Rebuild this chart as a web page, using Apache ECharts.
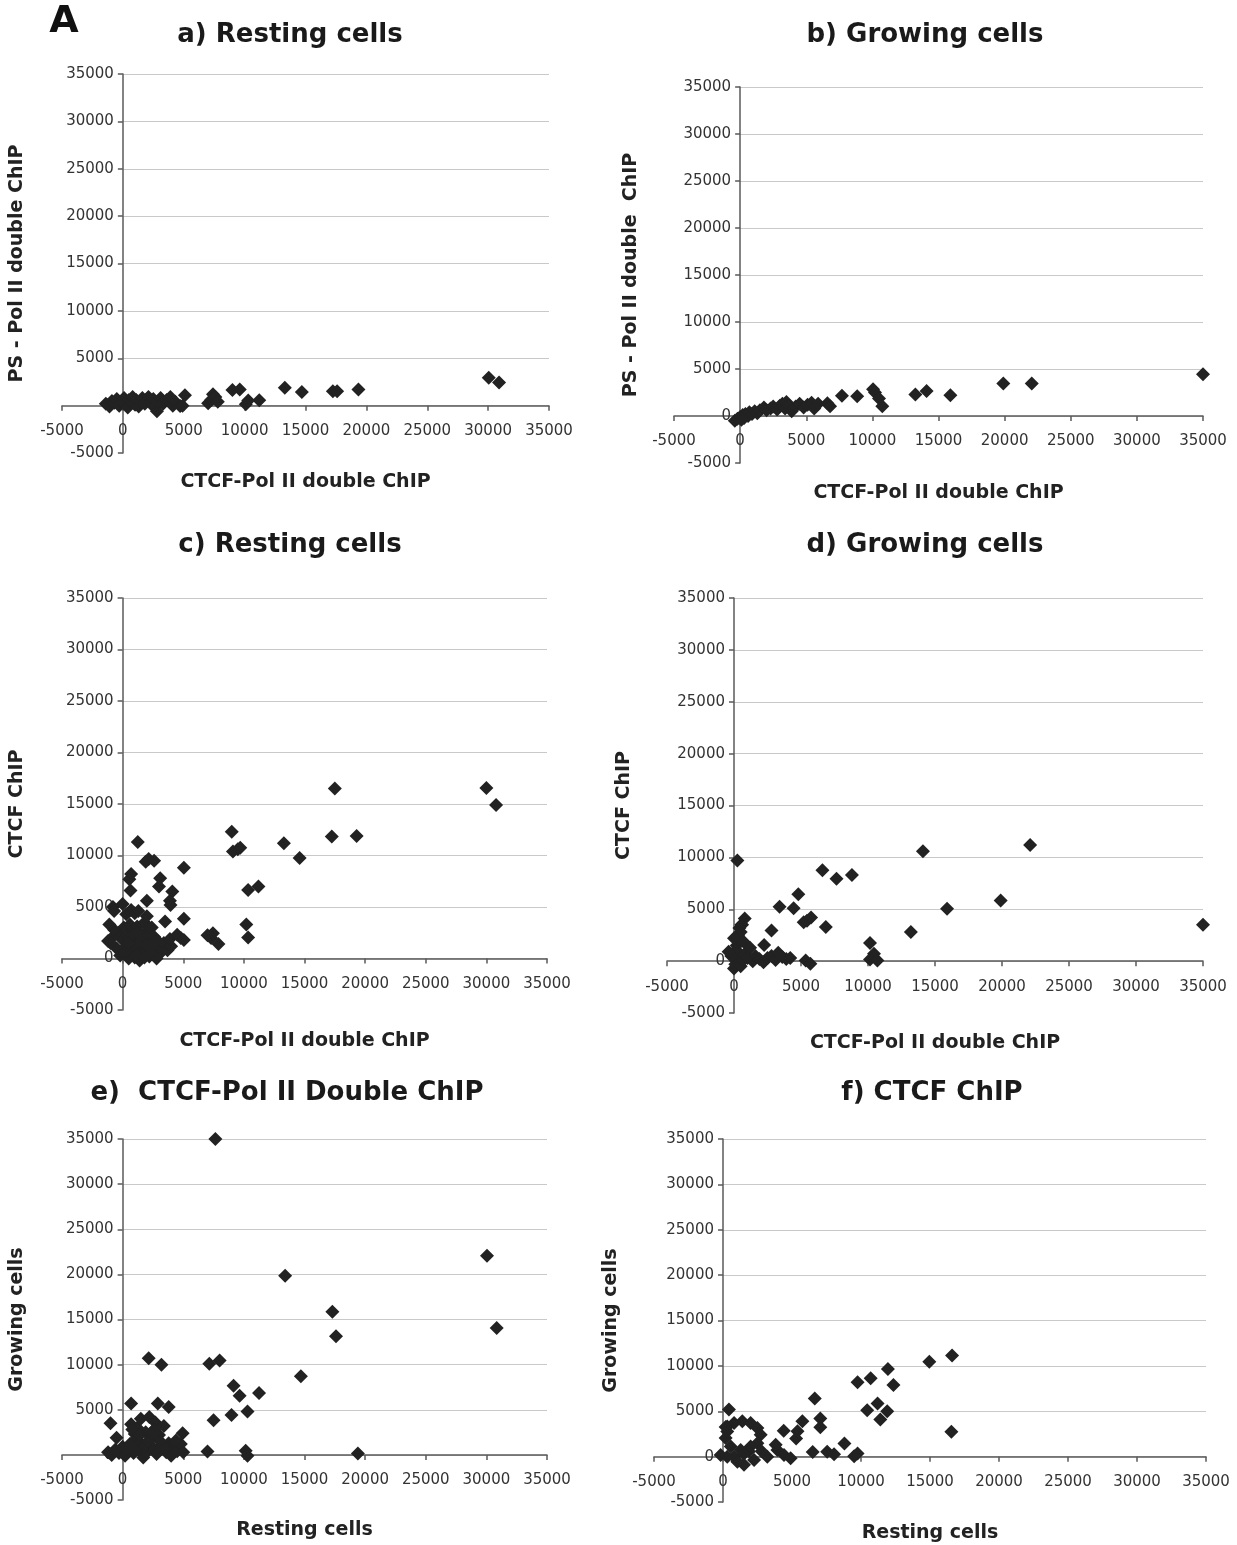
<!DOCTYPE html>
<html>
<head>
<meta charset="utf-8">
<script src="https://cdn.jsdelivr.net/npm/echarts@6/dist/echarts.min.js"></script>
<style>
  html, body { margin: 0; background: #fff; }
  #chart { width: 1237px; height: 1545px; }
</style>
</head>
<body>
<div id="chart"></div>
<script>
// axis ticks, same for every panel
const tickMin = -5000;
const tickMax = 35000;
const tickStep = 5000;

const titles = ['a) Resting cells', 'b) Growing cells', 'c) Resting cells',
  'd) Growing cells', 'e)  CTCF-Pol II Double ChIP', 'f) CTCF ChIP'];
const xNames = ['CTCF-Pol II double ChIP', 'CTCF-Pol II double ChIP', 'CTCF-Pol II double ChIP',
  'CTCF-Pol II double ChIP', 'Resting cells', 'Resting cells'];
const yNames = ['PS - Pol II double ChIP', 'PS - Pol II double  ChIP', 'CTCF ChIP',
  'CTCF ChIP', 'Growing cells', 'Growing cells'];

// a) resting: CTCF-Pol II double ChIP vs PS-Pol II double ChIP
const restingPS = [
  [-1400, 200], [-1100, -100], [-900, 500], [-700, 300], [-500, 700], [-300, 0], [-100, 400],
  [100, 800], [200, 200], [400, -200], [500, 600], [700, 300], [800, 900], [1000, 100],
  [1100, 600], [1300, -100], [1400, 400], [1600, 800], [1800, 200], [1900, 600], [2100, 900],
  [2300, 300], [2500, 700], [2600, -200], [2800, -600], [2900, 400], [3100, 800], [3300, 200],
  [3600, 600], [3900, 900], [4100, 0], [4300, 400], [4700, -50],
  [5100, 1100], [4900, 0], [7000, 250], [7250, 600], [7400, 1200], [7600, 900], [7800, 420],
  [9000, 1650], [9600, 1700], [10100, 150], [10300, 550], [11200, 580], [13300, 1880],
  [14700, 1450], [17250, 1530], [17600, 1530], [19350, 1700], [30050, 2950], [30900, 2450]
];

// b) growing: CTCF-Pol II double ChIP vs PS-Pol II double ChIP
const growingPS = [
  [-400, -500], [-200, -300], [0, -100], [100, -400], [200, 100], [300, -200], [400, 200],
  [600, 0], [700, 400], [900, 200], [1100, 500], [1300, 300], [1500, 600], [1800, 900],
  [2000, 600], [2300, 800], [2500, 1000], [2800, 700], [3000, 1100], [3200, 1300], [3400, 800],
  [3500, 1500], [3700, 1100], [3900, 500], [4200, 1000], [4500, 1300], [4800, 900],
  [5100, 1200], [5400, 1400], [5600, 800], [5900, 1300],
  [6600, 1350], [6800, 1050], [7700, 2150], [8850, 2100], [10050, 2850], [10200, 2500],
  [10500, 1850], [10750, 1050], [13250, 2300], [14100, 2650], [15900, 2200], [19900, 3450],
  [22050, 3450], [35000, 4450]
];

// c) resting: CTCF-Pol II double ChIP vs CTCF ChIP
const restingCTCF = [
  [-500, 1000], [-300, 2500], [-200, 300], [0, 1800], [100, 3000], [200, 500], [300, 1200],
  [400, 2200], [500, 0], [600, 3300], [700, 1500], [800, 600], [900, 2600], [1000, 100],
  [1100, 1900], [1200, 3100], [1300, 900], [1400, -200], [1500, 2400], [1600, 1300],
  [1700, 400], [1800, 3500], [1900, 1800], [2000, 800], [2100, 2800], [2200, 200],
  [2300, 1500], [2400, 3000], [2500, 600], [2600, 2100], [2700, 1100], [2800, 0],
  [2900, 1700], [3000, 400], [3200, 1000], [3400, 1500], [3700, 800], [4000, 1200],
  [-900, 2000], [-1000, 1500], [-700, 2800],
  [300, 700], [600, 2000], [900, 1200], [1100, 300], [1400, 1600], [1700, 2300],
  [2000, 1300], [2300, 500], [500, 1500], [1200, 2500], [1800, 100], [2500, 1400],
  [-800, 5000], [0, 5300], [700, 4700], [1000, 4400], [1300, 4600], [-1100, 3300],
  [-1200, 1700], [-700, 4600], [300, 4300], [1250, 11300], [700, 8200], [550, 7700],
  [650, 6600], [2000, 5600], [2000, 4100], [2150, 9650], [1900, 9400], [2600, 9500],
  [3100, 7800], [3000, 7000], [4100, 6500], [3900, 5600], [3950, 5200], [3500, 3600],
  [3900, 1900], [4500, 2300], [4800, 2000], [5050, 8800], [5050, 3850], [5050, 1800],
  [7000, 2250], [7300, 2000], [7450, 2450], [7900, 1400], [9000, 12300], [9100, 10400],
  [9500, 10600], [9700, 10750], [10350, 6650], [11200, 7000], [10200, 3300], [10350, 2050],
  [13300, 11200], [14600, 9750], [17250, 11850], [17500, 16500], [19300, 11900],
  [30000, 16550], [30800, 14900]
];

// d) growing: CTCF-Pol II double ChIP vs CTCF ChIP
const growingCTCF = [
  [0, -700], [100, -300], [200, 300], [300, 900], [200, 1500], [400, 2000], [300, 2500],
  [500, 2800], [400, 3200], [600, 3500], [100, 1000], [-200, 500], [-400, 900], [500, -500],
  [700, 100], [800, 700], [1000, 300], [1200, 1300], [1400, 0], [1600, 500], [1900, 200],
  [2200, -100], [2500, 300], [2800, 500], [3100, 100], [3300, 800], [3600, 400], [3900, 200],
  [4200, 300], [700, 1900], [0, 2200],
  [250, 9700], [800, 4100], [550, 3500], [2250, 1550], [2800, 2950], [3400, 5250],
  [4450, 5100], [4800, 6450], [5200, 3750], [5450, 3900], [5750, 4200], [5350, 50],
  [5700, -250], [6600, 8750], [6850, 3300], [7650, 7950], [8800, 8300], [10150, 1750],
  [10450, 700], [10150, 150], [10700, 50], [13200, 2800], [14100, 10600], [15900, 5050],
  [19900, 5850], [22100, 11200], [35000, 3500]
];

// e) CTCF-Pol II double ChIP: resting vs growing
const doubleChIP = [
  [-1200, 300], [-900, 0], [-600, 600], [-300, 200], [0, 900], [200, -100], [400, 400],
  [600, 1200], [700, 3400], [900, 200], [1100, 1800], [1200, 3000], [1300, 600],
  [1500, 4000], [1600, 1200], [1700, -300], [1900, 2500], [2000, 300], [2200, 4200],
  [2300, 1700], [2500, 800], [2700, 3600], [2800, 100], [3000, 2200], [3200, 1000],
  [3400, 3200], [3600, 300], [3800, 1300], [4000, -100], [4200, 800], [4500, 400],
  [4800, 1200], [5000, 300], [1000, 2300], [2600, 2800],
  [300, 700], [800, 2800], [1400, 2200], [1800, 1000], [2100, 1500], [2400, 2500],
  [3100, 1500], [3500, 700], [4400, 1600], [1000, 500],
  [-1000, 3500], [-500, 1900], [700, 5700], [2900, 5700], [3800, 5300], [4950, 2400],
  [2150, 10700], [3200, 10000], [7150, 10100], [8000, 10450], [7650, 35000], [7000, 370],
  [7500, 3850], [8980, 4420], [9150, 7650], [9650, 6550], [10300, 4800], [10150, 450],
  [10300, -100], [11250, 6850], [13400, 19850], [14700, 8700], [17300, 15850],
  [17600, 13150], [19400, 150], [30050, 22050], [30850, 14050]
];

// f) CTCF ChIP: resting vs growing
const ctcfChIP = [
  [310, 3330], [800, 3700], [1400, 3890], [2000, 3700], [2490, 3150], [2730, 2410],
  [2490, 1480], [2000, 1110], [1280, 740], [560, 1110], [190, 2040], [310, 2780],
  [800, 0], [1520, -900], [2250, -370], [3210, 0], [3940, 740], [4420, 190], [4900, -190],
  [-170, 190], [310, 0], [1040, -560], [3820, 1300], [1880, 560], [1500, 300], [2800, 600],
  [430, 5200], [190, 3260], [4400, 2850], [5300, 2000], [5400, 2800], [5750, 3900],
  [6500, 500], [6650, 6400], [7050, 4200], [7050, 3250], [7550, 550], [8050, 250],
  [8800, 1450], [9500, 50], [9750, 350], [9750, 8200], [10450, 5100], [10700, 8650],
  [11200, 5850], [11400, 4100], [11900, 5000], [11950, 9650], [12350, 7900],
  [14950, 10450], [16600, 11150], [16550, 2750]
];

const panelData = [restingPS, growingPS, restingCTCF, growingCTCF, doubleChIP, ctcfChIP];

// pixel boxes: l/r = x of -5000 / 35000, t/b = y of 35000 / -5000
const boxes = [
  { l: 62, r: 549, t: 74, b: 453, tx: 290, ty: 35, xGap: 67, yGap: 96 },
  { l: 674, r: 1203, t: 87, b: 463, tx: 925, ty: 35, xGap: 68, yGap: 100 },
  { l: 62, r: 547, t: 598, b: 1010, tx: 290, ty: 545, xGap: 73, yGap: 96 },
  { l: 667, r: 1203, t: 598, b: 1013, tx: 925, ty: 545, xGap: 72, yGap: 100 },
  { l: 62, r: 547, t: 1139, b: 1500, tx: 287, ty: 1093, xGap: 66, yGap: 96 },
  { l: 654, r: 1206, t: 1139, b: 1502, tx: 932, ty: 1093, xGap: 67, yGap: 102 }
];

const FONT = 'DejaVu Sans';
const axisColor = '#5a5a5a';
const fmt = v => String(v);

const grid = [], xAxis = [], yAxis = [], series = [], graphic = [];

boxes.forEach((p, i) => {
  // pixel position of the zero lines; the axes are shifted there with offset
  const zx = p.l + (p.r - p.l) / 8;
  const zy = p.t + (p.b - p.t) * 7 / 8;
  grid.push({ left: p.l, top: p.t, width: p.r - p.l, height: p.b - p.t,
    containLabel: false, outerBoundsMode: 'none' });
  xAxis.push({
    gridIndex: i, type: 'value', min: tickMin, max: tickMax, interval: tickStep,
    position: 'bottom', offset: -(p.b - zy),
    axisLine: { onZero: false, lineStyle: { color: axisColor, width: 1.5 } },
    axisTick: { length: 5, lineStyle: { color: axisColor, width: 1.5 } },
    axisLabel: { color: '#333', fontSize: 15, fontFamily: FONT, margin: 18, formatter: fmt },
    splitLine: { show: false },
    name: xNames[i], nameLocation: 'middle', nameGap: p.xGap,
    nameTextStyle: { fontWeight: 'bold', fontSize: 19, color: '#222', fontFamily: FONT }
  });
  yAxis.push({
    gridIndex: i, type: 'value', min: tickMin, max: tickMax, interval: tickStep,
    position: 'left', offset: -(zx - p.l),
    axisLine: { onZero: false, lineStyle: { color: axisColor, width: 1.5 } },
    axisTick: { length: 5, lineStyle: { color: axisColor, width: 1.5 } },
    axisLabel: { color: '#333', fontSize: 15, fontFamily: FONT, margin: 9, formatter: fmt },
    splitLine: { show: false },
    name: yNames[i], nameLocation: 'middle', nameGap: p.yGap,
    nameTextStyle: { fontWeight: 'bold', fontSize: 19, color: '#222', fontFamily: FONT }
  });
  series.push({
    type: 'scatter', xAxisIndex: i, yAxisIndex: i, data: panelData[i],
    symbol: 'diamond', symbolSize: 14, z: 5,
    itemStyle: { color: '#222', opacity: 1 }
  });
  graphic.push({
    type: 'text',
    style: { text: titles[i], x: p.tx, y: p.ty, fill: '#1a1a1a',
      fontSize: 26, fontWeight: 'bold', fontFamily: FONT,
      textAlign: 'center', textVerticalAlign: 'middle' }
  });
});

// horizontal gridlines only span from x = 0 to the right edge, above y = 0
boxes.forEach((p) => {
  const zx = p.l + (p.r - p.l) / 8;
  const zy = p.t + (p.b - p.t) * 7 / 8;
  const gi = grid.length;
  grid.push({ left: zx, top: p.t, width: p.r - zx, height: zy - p.t,
    containLabel: false, outerBoundsMode: 'none' });
  xAxis.push({ gridIndex: gi, type: 'value', min: 0, max: tickMax, show: false });
  yAxis.push({
    gridIndex: gi, type: 'value', min: 0, max: tickMax, interval: tickStep,
    axisLine: { show: false }, axisTick: { show: false }, axisLabel: { show: false },
    splitLine: { show: true, lineStyle: { color: '#c9c9c9', width: 1 } }, z: 0
  });
});

graphic.push({
  type: 'text',
  style: { text: 'A', x: 64, y: 22, fill: '#111', fontSize: 38, fontWeight: 'bold',
    fontFamily: FONT, textAlign: 'center', textVerticalAlign: 'middle' }
});

const chart = echarts.init(document.getElementById('chart'));
chart.setOption({
  backgroundColor: '#fff',
  animation: false,
  grid: grid,
  xAxis: xAxis,
  yAxis: yAxis,
  series: series,
  graphic: graphic
});
</script>
</body>
</html>
